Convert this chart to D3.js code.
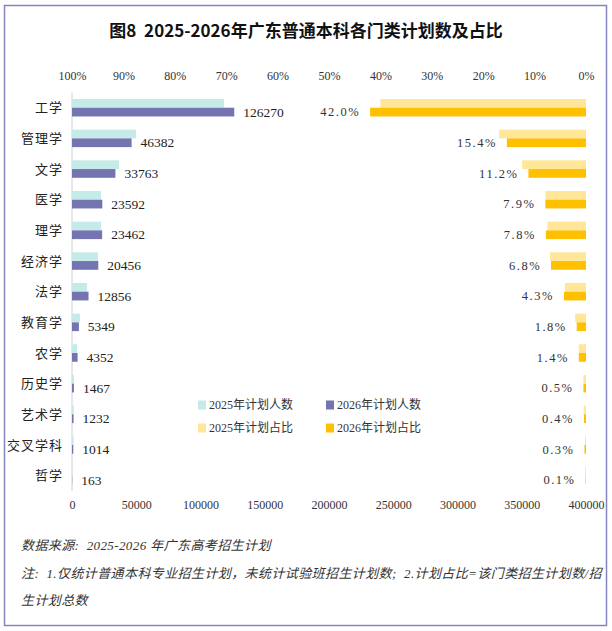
<!DOCTYPE html>
<html>
<head>
<meta charset="utf-8">
<script src="https://cdn.jsdelivr.net/npm/d3@7"></script>
<style>
  body { margin: 0; background: #fff; }
  svg text { font-family: "Liberation Serif", "Noto Sans CJK SC", serif; white-space: pre; }
</style>
</head>
<body>
<script>
// 门类
const categories = ["工学", "管理学", "文学", "医学", "理学", "经济学", "法学", "教育学", "农学", "历史学", "艺术学", "交叉学科", "哲学"];
// 计划人数
const plan2025 = [118300, 49800, 36600, 22600, 22600, 20200, 11700, 6200, 3900, 1500, 1400, 1300, 200];
const plan2026 = [126270, 46382, 33763, 23592, 23462, 20456, 12856, 5349, 4352, 1467, 1232, 1014, 163];
// 计划占比 (%)
const share2025 = [40.0, 16.9, 12.4, 7.9, 7.5, 7.0, 4.1, 2.1, 1.4, 0.5, 0.45, 0.2, 0.15];
const share2026 = [42.0, 15.4, 11.2, 7.9, 7.8, 6.8, 4.3, 1.8, 1.4, 0.5, 0.4, 0.3, 0.1];
// 坐标轴刻度
const countTicks = [0, 50000, 100000, 150000, 200000, 250000, 300000, 350000, 400000];
const shareTicks = [100, 90, 80, 70, 60, 50, 40, 30, 20, 10, 0];

const legendItems = [
  ["2025年计划人数", "#c5ebe9"], ["2026年计划人数", "#7474b0"],
  ["2025年计划占比", "#ffe699"], ["2026年计划占比", "#ffc000"]
];

const w = 612, h = 631;
const plotL = 72, plotR = 586, plotT = 92.4, plotB = 491;

const svg = d3.select("body").append("svg")
  .attr("width", w).attr("height", h);

// 外框
svg.append("rect")
  .attr("x", 4.5).attr("y", 5.5).attr("width", 602).attr("height", 620)
  .attr("fill", "#fff").attr("stroke", "#8585bd").attr("stroke-width", 1.5);

// 标题
svg.append("text")
  .attr("x", 306).attr("y", 37)
  .attr("text-anchor", "middle")
  .style("font-family", "'Noto Sans CJK SC', sans-serif")
  .attr("font-size", 17).attr("font-weight", "bold").attr("fill", "#111")
  .text("图8  2025-2026年广东普通本科各门类计划数及占比");

const xCount = d3.scaleLinear().domain([0, 400000]).range([plotL, plotR]);
const xShare = d3.scaleLinear().domain([0, 100]).range([plotR, plotL]);

const yBand = d3.scaleBand().domain(categories).range([plotT, plotB]).paddingInner(0.43).paddingOuter(0.215);
const ySub = d3.scaleBand().domain(["2025", "2026"]).range([0, yBand.bandwidth()]);

// 上方占比轴
const topAxis = d3.axisTop(xShare).tickValues(shareTicks).tickFormat(d => d + "%").tickSize(0).tickPadding(0);
svg.append("g").attr("transform", "translate(0,80)").call(topAxis)
  .call(g => g.select(".domain").remove())
  .selectAll("text").attr("font-size", 12).attr("fill", "#333")
  .style("font-family", "'Liberation Serif', serif");

// 下方人数轴
const bottomAxis = d3.axisBottom(xCount).tickValues(countTicks).tickFormat(d3.format("d")).tickSize(0).tickPadding(0);
svg.append("g").attr("transform", "translate(0,500)").call(bottomAxis)
  .call(g => g.select(".domain").remove())
  .selectAll("text").attr("font-size", 12).attr("fill", "#333")
  .style("font-family", "'Liberation Serif', serif");

// 纵轴线
svg.append("line")
  .attr("x1", plotL).attr("x2", plotL).attr("y1", plotT).attr("y2", plotB)
  .attr("stroke", "#d0d0d0").attr("stroke-width", 1);

// 类别标签
svg.selectAll(".cat").data(categories).enter().append("text")
  .attr("x", 63)
  .attr("y", d => yBand(d) + yBand.bandwidth() / 2)
  .attr("dy", "0.35em")
  .attr("text-anchor", "end")
  .attr("font-size", 13).attr("fill", "#222")
  .style("letter-spacing", "1px")
  .text(d => d);

// 人数柱
svg.selectAll(".b25").data(categories).enter().append("rect")
  .attr("x", xCount(0))
  .attr("y", d => yBand(d) + ySub("2025"))
  .attr("width", (d, i) => xCount(plan2025[i]) - xCount(0))
  .attr("height", ySub.bandwidth())
  .attr("fill", "#c5ebe9");

svg.selectAll(".b26").data(categories).enter().append("rect")
  .attr("x", xCount(0))
  .attr("y", d => yBand(d) + ySub("2026"))
  .attr("width", (d, i) => xCount(plan2026[i]) - xCount(0))
  .attr("height", ySub.bandwidth())
  .attr("fill", "#7474b0");

// 占比柱
svg.selectAll(".s25").data(categories).enter().append("rect")
  .attr("x", (d, i) => xShare(share2025[i]))
  .attr("y", d => yBand(d) + ySub("2025"))
  .attr("width", (d, i) => xShare(0) - xShare(share2025[i]))
  .attr("height", ySub.bandwidth())
  .attr("fill", "#ffe699");

svg.selectAll(".s26").data(categories).enter().append("rect")
  .attr("x", (d, i) => xShare(share2026[i]))
  .attr("y", d => yBand(d) + ySub("2026"))
  .attr("width", (d, i) => xShare(0) - xShare(share2026[i]))
  .attr("height", ySub.bandwidth())
  .attr("fill", "#ffc000");

// 2026 人数标签
svg.selectAll(".lc").data(categories).enter().append("text")
  .attr("x", (d, i) => xCount(plan2026[i]) + 9)
  .attr("y", d => yBand(d) + ySub("2026") + ySub.bandwidth() / 2)
  .attr("dy", "0.35em")
  .attr("font-size", 13.5).attr("fill", "#222")
  .text((d, i) => plan2026[i]);

// 2026 占比标签
svg.selectAll(".ls").data(categories).enter().append("text")
  .attr("x", (d, i) => Math.min(xShare(share2026[i]), xShare(share2025[i]) + 8) - 10)
  .attr("y", d => yBand(d) + ySub("2026") + ySub.bandwidth() / 2)
  .attr("dy", "0.35em")
  .attr("text-anchor", "end")
  .attr("font-size", 12.5).attr("fill", "#333")
  .style("letter-spacing", "1.5px")
  .text((d, i) => share2026[i].toFixed(1) + "%");

// 图例
const legend = svg.selectAll(".lg").data(legendItems).enter().append("g")
  .attr("transform", (d, i) => `translate(${i % 2 === 0 ? 198 : 326},${i < 2 ? 405 : 428})`);
legend.append("rect").attr("x", 0).attr("y", -4.5).attr("width", 8).attr("height", 9).attr("fill", d => d[1]);
legend.append("text").attr("x", 11).attr("dy", "0.35em")
  .attr("font-size", 12).attr("fill", "#333")
  .text(d => d[0]);

// 注释
const notes = [
  ["数据来源:  2025-2026 年广东高考招生计划", 550],
  ["注:  1.仅统计普通本科专业招生计划，未统计试验班招生计划数;  2.计划占比=该门类招生计划数/招", 578],
  ["生计划总数", 605]
];
svg.selectAll(".note").data(notes).enter().append("text")
  .attr("x", 21).attr("y", d => d[1])
  .attr("font-size", 13).attr("font-style", "italic").attr("fill", "#333")
  .style("letter-spacing", "0.4px")
  .text(d => d[0]);
</script>
</body>
</html>
